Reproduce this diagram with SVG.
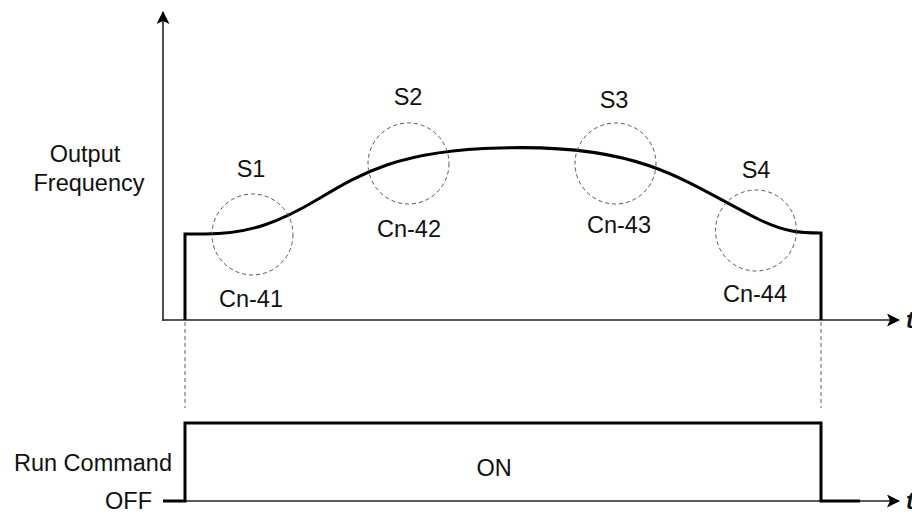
<svg xmlns="http://www.w3.org/2000/svg" width="912" height="518" viewBox="0 0 912 518">
<style>
text{font-family:"Liberation Sans",Arial,sans-serif;font-size:23.5px;fill:#111}
.mid{text-anchor:middle}
.end{text-anchor:end}
.axis{stroke:#222;stroke-width:1.6;fill:none}
.thick{stroke:#000;stroke-width:3;fill:none;stroke-linejoin:miter}
.zone{stroke:#555;stroke-width:1;fill:none;stroke-dasharray:4 3}
.guide{stroke:#777;stroke-width:1.2;fill:none;stroke-dasharray:4 3}
.t{font-style:italic;font-weight:bold}
</style>
<defs>
<marker id="arr" markerUnits="userSpaceOnUse" markerWidth="14" markerHeight="14" refX="12" refY="6.5" orient="auto">
<path d="M0,0 L13,6.5 L0,13 L3,6.5 Z" fill="#000"/>
</marker>
</defs>
<g id="axes">
<line class="axis" x1="163" y1="321" x2="163" y2="12" marker-end="url(#arr)"/>
<line class="axis" x1="163" y1="320" x2="899" y2="320" marker-end="url(#arr)"/>
<line class="axis" x1="185" y1="501" x2="899" y2="501" marker-end="url(#arr)"/>
<text class="t" x="906" y="328">t</text>
<text class="t" x="906" y="509">t</text>
</g>
<g id="output-frequency">
<text class="mid" x="85" y="162">Output</text>
<text class="mid" x="89" y="191">Frequency</text>
<path class="thick" d="M185,320 V234 H205 C250,234 280,222 320,198 C360,174 400,150 500,148 C560,146 610,152 650,166 C690,180 720,200 760,220 C785,232 800,233 821,233 V320"/>
</g>
<g id="S1">
<circle class="zone" cx="252.5" cy="234.5" r="40.5"/>
<text class="mid" x="251" y="177">S1</text>
<text class="mid" x="251" y="307">Cn-41</text>
</g>
<g id="S2">
<circle class="zone" cx="408.5" cy="163.5" r="40.5"/>
<text class="mid" x="408" y="105">S2</text>
<text class="mid" x="409" y="237">Cn-42</text>
</g>
<g id="S3">
<circle class="zone" cx="615.5" cy="163.5" r="40.5"/>
<text class="mid" x="614" y="108">S3</text>
<text class="mid" x="619" y="233">Cn-43</text>
</g>
<g id="S4">
<circle class="zone" cx="756" cy="230.5" r="40.5"/>
<text class="mid" x="756" y="178">S4</text>
<text class="mid" x="755" y="302">Cn-44</text>
</g>
<g id="connectors">
<line class="guide" x1="185" y1="322" x2="185" y2="408"/>
<line class="guide" x1="821" y1="322" x2="821" y2="408"/>
</g>
<g id="run-command">
<text class="end" x="172" y="471">Run Command</text>
<text class="end" x="152" y="509">OFF</text>
<text class="mid" x="494" y="476">ON</text>
<path class="thick" d="M163,501 H185 V423 H821 V501 H860"/>
</g>
</svg>
